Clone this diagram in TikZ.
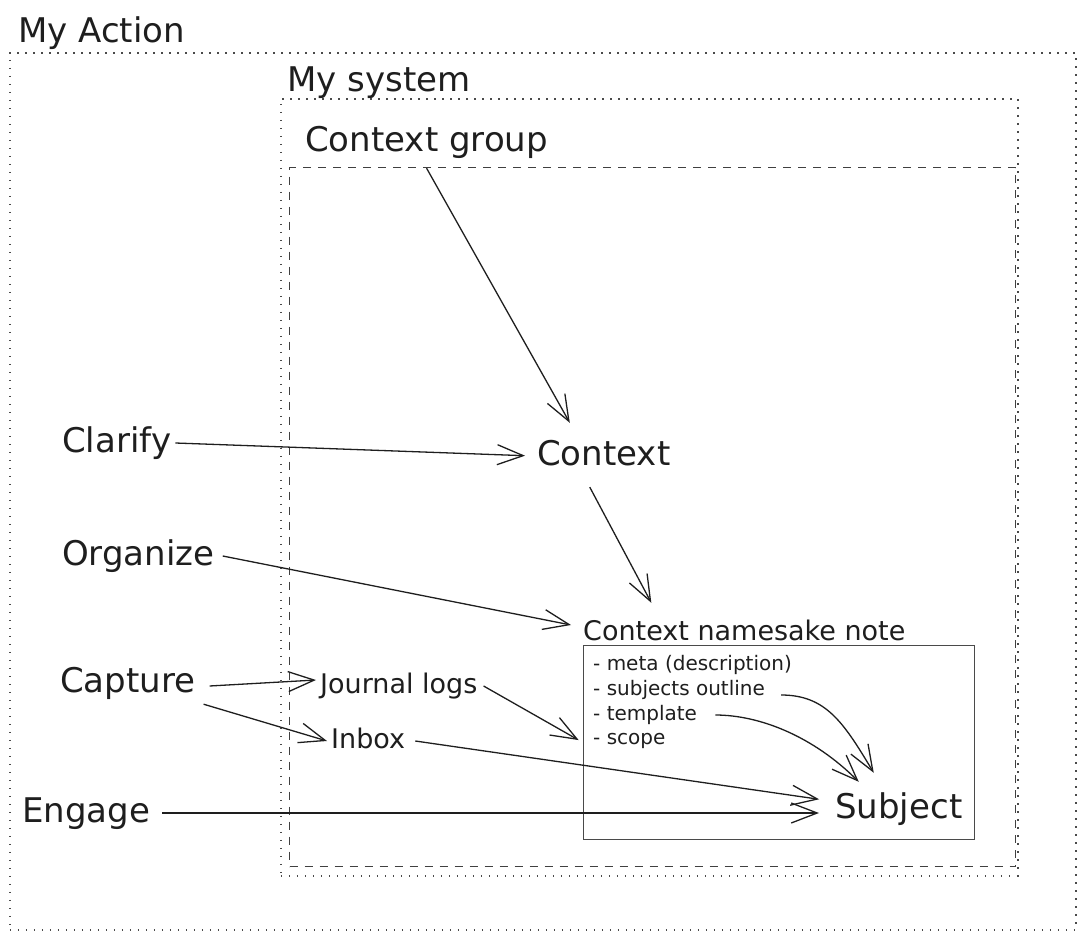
\documentclass[tikz,border=0pt]{standalone}
\usepackage{fontspec}
\setmainfont{DejaVu Sans}
\usepackage{tikz}
\usetikzlibrary{positioning,arrows.meta}
\definecolor{InkBlack}{HTML}{1E1E1E}
\definecolor{FrameGray}{HTML}{4A4A4A}

\begin{document}
\begin{tikzpicture}[
  x=1pt, y=-1pt,
  txt/.style={
    inner sep=4pt,
    text=InkBlack,
    anchor=base west
  },
  big/.style={txt, font=\fontsize{34}{40}\selectfont, text height=26pt, text depth=8pt},
  mid/.style={txt, font=\fontsize{27}{32}\selectfont, text height=21pt, text depth=7pt},
  small/.style={txt, font=\fontsize{20}{24}\selectfont, text height=15pt, text depth=5pt},
  frame/.style={
    anchor=north west,
    inner sep=0pt
  },
  dotframe/.style={frame, draw=FrameGray, line width=1.6pt, dash pattern=on 1.6pt off 6.4pt},
  dashframe/.style={frame, draw=InkBlack!85, line width=1.2pt, dash pattern=on 8pt off 7pt},
  notebox/.style={frame, draw=FrameGray, line width=1.1pt},
  arr/.style={-{Straight Barb[length=26pt,width=20pt]}, line width=1.3pt, draw=InkBlack}
]

\useasboundingbox (0,0) rectangle (1085,939);

% =========================================================
% FRAMES
% =========================================================

\node[dotframe, minimum width=1066pt, minimum height=877pt] (actionframe) at (9,52) {};
\node[big] (actionlbl) at ([xshift=5pt,yshift=9pt]actionframe.north west)
{My Action};

\node[dotframe, minimum width=737pt, minimum height=777pt] (systemframe) at (280,98) {};
\node[big] (systemlbl) at ([xshift=3pt,yshift=6pt]systemframe.north west)
{My system};

\node[dashframe, minimum width=726pt, minimum height=699pt] (groupframe) at (289,167) {};
\node[big] (cgroup) at ([xshift=12pt,yshift=15pt]groupframe.north west)
{Context group};

% =========================================================
% CONTEXT NAMESAKE NOTE
% =========================================================

\node[notebox, minimum width=391pt, minimum height=194pt] (note) at (583,645) {};
\node[mid] (nstitle) at ([xshift=-4pt,yshift=5pt]note.north west)
{Context namesake note};

\node[small] (meta) at ([xshift=6pt,yshift=-25pt]note.north west)
{- meta (description)};
\node[small] (outline) at ([yshift=-25pt]meta.base west)
{- subjects outline};
\node[small] (template) at ([yshift=-25pt]outline.base west)
{- template};
\node[small] (scope) at ([yshift=-24pt]template.base west)
{- scope};

% =========================================================
% NODES
% =========================================================

\node[big] (context) at (533,465) {Context};
\node[big] (subject) at (831,818) {Subject};

\node[big] (clarify) at (58,452) {Clarify};
\node[big] (organize) at (58,565) {Organize};
\node[big] (capture) at (56,692) {Capture};
\node[big] (engage) at (18,822) {Engage};

\node[mid] (journal) at (316,693) {Journal logs};
\node[mid] (inbox) at (327,748) {Inbox};

% =========================================================
% FLOWS
% =========================================================

\draw[arr] ([yshift=-4pt]cgroup.south) -- ([xshift=-34pt,yshift=12pt]context.north);
\draw[arr, shorten >=8pt] (clarify.east) -- (context.west);
\draw[arr] ([xshift=-14pt,yshift=-10pt]context.south) -- ([xshift=-93pt,yshift=12pt]nstitle.north);
\draw[arr] ([xshift=4pt]organize.east) -- ([xshift=-8pt,yshift=8pt]nstitle.west);

\draw[arr] ([xshift=10pt,yshift=-3pt]capture.east) -- ([yshift=6pt]journal.west);
\draw[arr] ([xshift=4pt]capture.south east) -- (inbox.west);
\draw[arr, shorten >=5pt] ([xshift=2pt]journal.east) -- (note.west);

\draw[arr, shorten >=12pt] ([xshift=6pt]inbox.east) -- ([yshift=8pt]subject.west);
\draw[arr, shorten >=12pt] ([xshift=8pt]engage.east) -- (engage.east -| subject.west);

% list items feeding the subject
\draw[arr] ([xshift=12pt,yshift=-5pt]outline.east)
  .. controls +(45,0) and +(-30,-50) .. ([xshift=-25pt,yshift=15pt]subject.north);
\draw[arr] ([xshift=14pt]template.east)
  .. controls +(45,0) and +(-45,-45) .. ([xshift=-40pt,yshift=6pt]subject.north);

\end{tikzpicture}
\end{document}
